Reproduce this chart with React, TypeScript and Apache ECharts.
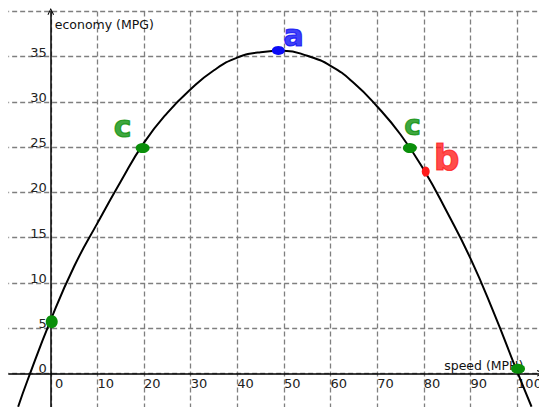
import React, { useEffect, useRef } from "react";
import * as echarts from "echarts";

// curve: [speed, economy]
const curveSpeed = [-7.0, -5, 0, 5, 10, 15, 20, 25, 30, 35, 40, 45, 50, 55, 60, 65, 70, 75, 80, 85, 90, 95, 100, 103.1];
const curveEconomy = [-3.7, -0.8, 5.9, 11.8, 16.6, 21.2, 25.5, 28.8, 31.4, 33.5, 34.9, 35.5, 35.65, 35.1, 34.0, 32.1, 29.5, 26.4, 22.5, 17.8, 12.7, 6.7, 0.2, -3.7];

// highlighted points
const greenX = [0.2, 19.7, 77.0, 100.2];
const greenY = [5.7, 24.9, 24.9, 0.5];
const blueX = [48.8];
const blueY = [35.7];
const redX = [80.4];
const redY = [22.3];

// hand-written letters
const letters = ["c", "c", "a", "b"];
const letterX = [15.4, 77.6, 52.1, 84.9];
const letterY = [27.3, 27.4, 37.4, 23.9];
const letterColors = ["#0a8f0a", "#0a8f0a", "#0b0bf5", "#ff1a1a"];
const letterSizes = [30, 28, 30, 36];

const xTicks = [0, 10, 20, 30, 40, 50, 60, 70, 80, 90, 100];
const yTicks = [0, 5, 10, 15, 20, 25, 30, 35];

const GREEN = "#0a8f0a";
const BLUE = "#0b0bf5";
const RED = "#ff1a1a";
const FONT = "DejaVu Sans";

const W = 539;
const H = 407;
const X_MIN = -10;
const X_MAX = 105;
const Y_MIN = -5;
const Y_MAX = 40;
const G = { left: 4.15, right: -1.4, top: 11.5, bottom: -11.5 };

export default function App() {
  const ref = useRef<HTMLDivElement>(null);
  useEffect(() => {
    if (!ref.current) return;
    const chart = echarts.init(ref.current, undefined, { renderer: "svg" });
    const arrow = "path://M0,10 L5,0 L10,10 L8.6,10.6 L5,3.2 L1.4,10.6 Z";
    const plotW = W - G.left - G.right;
    const plotH = H - G.top - G.bottom;
    const x0 = G.left + ((0 - X_MIN) / (X_MAX - X_MIN)) * plotW;
    const y0 = G.top + ((Y_MAX - 0) / (Y_MAX - Y_MIN)) * plotH;
    const yAxisOffset = -(x0 - G.left);
    const xAxisOffset = -(H - G.bottom - y0);
    chart.setOption({
      animation: false,
      backgroundColor: "#ffffff",
      grid: {
        left: G.left,
        right: G.right,
        top: G.top,
        bottom: G.bottom,
        containLabel: false,
        outerBoundsMode: "none",
      },
      xAxis: {
        type: "value",
        min: X_MIN,
        max: X_MAX,
        interval: 10,
        offset: xAxisOffset,
        name: "speed (MPH)",
        nameLocation: "end",
        nameGap: -17,
        nameTextStyle: { align: "right", verticalAlign: "bottom", fontFamily: FONT, fontSize: 12.5, color: "#111", padding: [0, 0, 1, 0] },
        axisLine: { onZero: false, symbol: ["none", arrow], symbolSize: [8, 7], lineStyle: { color: "#000", width: 1.5 } },
        axisTick: { show: false },
        axisLabel: {
          align: "left",
          margin: 4,
          fontFamily: FONT,
          fontSize: 13,
          color: "#222",
          formatter: (v: number) => (xTicks.includes(v) ? (v === 0 ? " 0" : String(v)) : ""),
        },
        splitLine: { show: true, lineStyle: { color: "#7f7f7f", width: 1.3, type: [5, 3] } },
      },
      yAxis: {
        type: "value",
        min: Y_MIN,
        max: Y_MAX,
        interval: 5,
        offset: yAxisOffset,
        name: "economy (MPG)",
        nameLocation: "end",
        nameGap: -6,
        nameTextStyle: { align: "left", verticalAlign: "top", fontFamily: FONT, fontSize: 12.5, color: "#111", padding: [0, 0, 0, 4] },
        axisLine: { onZero: false, symbol: ["none", arrow], symbolSize: [8, 7], lineStyle: { color: "#000", width: 1.5 } },
        axisTick: { show: false },
        axisLabel: {
          margin: 4,
          align: "right",
          verticalAlign: "bottom",
          fontFamily: FONT,
          fontSize: 13,
          color: "#222",
          padding: [0, 0, -2, 0],
          formatter: (v: number) => (yTicks.includes(v) ? String(v) : ""),
        },
        splitLine: { show: true, lineStyle: { color: "#7f7f7f", width: 1.3, type: [5, 3] } },
      },
      graphic: [
        { type: "rect", left: 0, top: 0, z: 100, shape: { width: 8.3, height: H }, style: { fill: "#ffffff" } },
      ],
      series: [
        {
          type: "line",
          data: curveSpeed.map((x, i) => [x, curveEconomy[i]]),
          smooth: 0.5,
          showSymbol: false,
          silent: true,
          z: 3,
          lineStyle: { color: "#000", width: 2 },
        },
        {
          type: "scatter",
          silent: true,
          z: 5,
          data: greenX.map((x, i) => ({
            value: [x, greenY[i]],
            symbolSize: i === 0 ? [12, 13] : [14, 10],
          })),
          itemStyle: { color: GREEN, opacity: 1 },
        },
        {
          type: "scatter",
          silent: true,
          z: 5,
          symbolSize: [13, 9],
          data: blueX.map((x, i) => [x, blueY[i]]),
          itemStyle: { color: BLUE, opacity: 1 },
        },
        {
          type: "scatter",
          silent: true,
          z: 5,
          symbolSize: [8, 10],
          data: redX.map((x, i) => [x, redY[i]]),
          itemStyle: { color: RED, opacity: 1 },
        },
        {
          type: "scatter",
          silent: true,
          z: 6,
          symbolSize: 1,
          itemStyle: { color: "rgba(0,0,0,0)" },
          data: letters.map((t, i) => ({
            value: [letterX[i], letterY[i]],
            label: {
              show: true,
              position: "inside",
              formatter: t,
              color: letterColors[i],
              fontSize: letterSizes[i],
              fontWeight: "bold",
              fontFamily: FONT,
              textBorderColor: letterColors[i],
              textBorderWidth: 1.2,
            },
          })),
        },
      ],
    });
    return () => chart.dispose();
  }, []);
  return (
    <div
      ref={ref}
      style={{ position: "fixed", left: 0, top: 0, width: W, height: H, background: "#fff" }}
    />
  );
}
